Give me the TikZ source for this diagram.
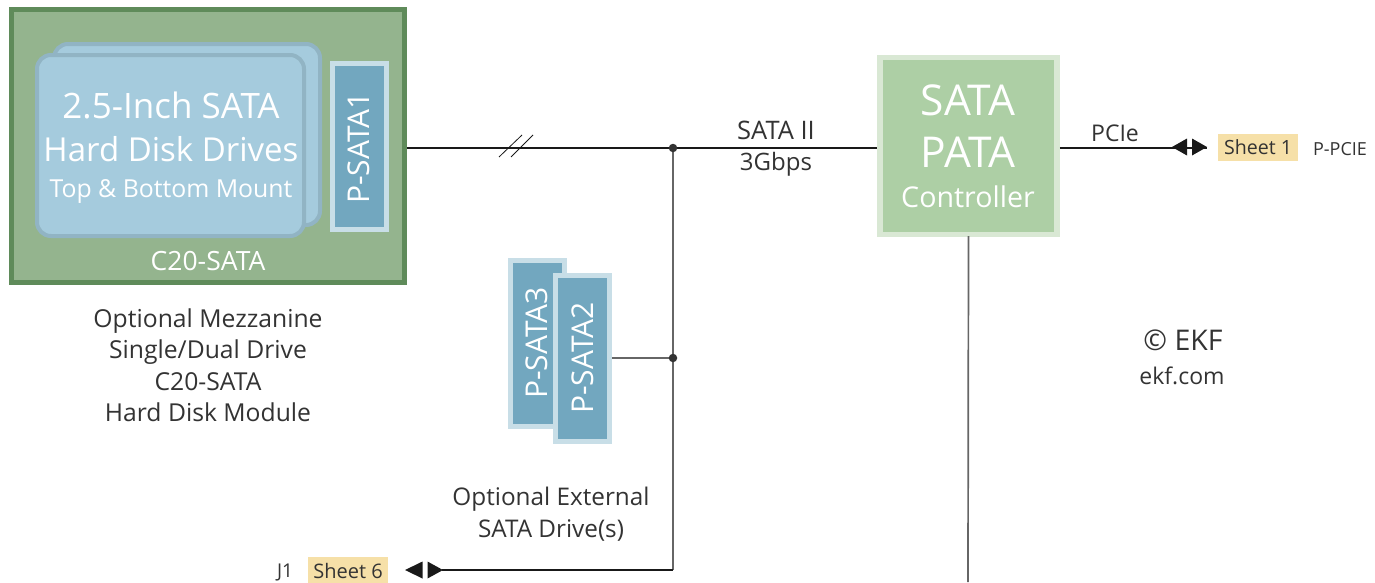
\documentclass[tikz,border=0pt]{standalone}
\usepackage{fontspec}
\setmainfont{Open Sans}
\definecolor{modfill}{HTML}{94B48E}
\definecolor{modborder}{HTML}{5F8B5A}
\definecolor{diskfill}{HTML}{A5CBDD}
\definecolor{diskborder}{HTML}{91B4C4}
\definecolor{connfill}{HTML}{72A7BF}
\definecolor{connframe}{HTML}{C8DEE7}
\definecolor{ctrlfill}{HTML}{ADCFA5}
\definecolor{ctrlframe}{HTML}{D9E8D4}
\definecolor{sheetfill}{HTML}{F6E0A8}
\definecolor{txt}{HTML}{333333}
\definecolor{vline}{HTML}{666666}
\newcommand{\fsz}[1]{\fontsize{#1}{#1}\selectfont}
\begin{document}
\begin{tikzpicture}[x=1pt,y=-1pt,
  lbl/.style={text=txt, inner sep=0pt, anchor=base},
  wlbl/.style={text=white, inner sep=0pt, anchor=base},
  disk/.style={draw=diskborder, line width=4pt, fill=diskfill, rounded corners=14pt, inner sep=0pt},
  conn/.style={draw=connframe, line width=5pt, fill=connfill, inner sep=0pt, minimum width=54pt, minimum height=166pt},
  sheet/.style={fill=sheetfill, inner sep=0pt, minimum width=80pt, minimum height=27pt, text=txt},
  hline/.style={draw=black!90, line width=1.1pt},
  vl/.style={draw=vline, line width=1.7pt},
  dotnode/.style={circle, fill=txt, inner sep=0pt, minimum size=8.5pt},
  tip/.style={fill=black!90, draw=none}]
\useasboundingbox (0,0) rectangle (1375,582);

% module
\node[draw=modborder, line width=5pt, fill=modfill, inner sep=0pt,
      minimum width=393pt, minimum height=273pt] (mod) at (208,146) {};
\node[disk, minimum width=266pt, minimum height=181pt] (diskback) at (187,134.5) {};
\node[disk, minimum width=267pt, minimum height=181pt] (diskfront) at (170.5,145.5) {};
\node[wlbl, font=\fsz{35}] (d1) at (171,118) {2.5-Inch SATA};
\node[wlbl, font=\fsz{33}] (d2) at (171,161) {Hard Disk Drives};
\node[wlbl, font=\fsz{24.8}] (d3) at (171,197) {Top \& Bottom Mount};
\node[conn] (ps1) at (359.5,146.5) {};
\node[text=white, inner sep=0pt, rotate=90, font=\fsz{30}] (ps1t) at (359,148) {P-SATA1};
\node[wlbl, font=\fsz{26.5}] (modname) at (208,270) {C20-SATA};

% mezzanine caption
\node[lbl, font=\fsz{24.7}] (m1) at (208,327) {Optional Mezzanine};
\node[lbl, font=\fsz{24.7}] (m2) at (208,358) {Single/Dual Drive};
\node[lbl, font=\fsz{24.7}] (m3) at (208,390) {C20-SATA};
\node[lbl, font=\fsz{24.7}] (m4) at (208,421) {Hard Disk Module};

% external drives
\node[conn] (ps3) at (537,343.5) {};
\node[text=white, inner sep=0pt, rotate=90, font=\fsz{30}] (ps3t) at (537,343) {P-SATA3};
\node[conn] (ps2) at (582.5,358.5) {};
\node[text=white, inner sep=0pt, rotate=90, font=\fsz{30}] (ps2t) at (583,358) {P-SATA2};
\node[lbl, font=\fsz{24.3}] (e1) at (551,505) {Optional External};
\node[lbl, font=\fsz{24.3}] (e2) at (551,537) {SATA Drive(s)};

% controller
\node[draw=ctrlframe, line width=5.5pt, fill=ctrlfill, inner sep=0pt,
      minimum width=177pt, minimum height=177pt] (ctrl) at (968.5,146) {};
\node[wlbl, font=\fsz{42.5}] (c1) at (968,115) {SATA};
\node[wlbl, font=\fsz{42.5}] (c2) at (968,167) {PATA};
\node[wlbl, font=\fsz{28.6}] (c3) at (968,207) {Controller};

% junctions
\coordinate (j1) at (673,148);
\coordinate (j2) at (673,358);
\coordinate (j3) at (673,570);
\coordinate (ctrlbot) at (968,582);
\coordinate (pcieend) at (1207,148);
\coordinate (j1end) at (442,570);

% connectors
\draw[hline] (mod.east |- j1) -- (ctrl.west |- j1);
\draw[black!90, line width=0.8pt] (499,157) -- (522,135);
\draw[black!90, line width=0.8pt] (511,157) -- (533,135);
\draw[vl] (j1) -- (j3);
\draw[hline] (j3) -- (j1end);
\draw[vl] (ps2.east |- j2) -- (j2);
\draw[vl] (ctrl.south |- ctrlbot) ++(0,-346) -- (ctrlbot);
\draw[hline] (ctrl.east |- pcieend) -- (pcieend);
\node[dotnode] (dot1) at (j1) {};
\node[dotnode] (dot2) at (j2) {};

% labels on lines
\node[lbl, font=\fsz{25.5}] (sata2) at (776,139) {SATA II};
\node[lbl, font=\fsz{24}] (gbps) at (776,170) {3Gbps};
\node[lbl, font=\fsz{23}] (pcie) at (1115,141) {PCIe};

% double arrow tips
\fill[tip] (1172,147) -- (1187,138.5) -- (1187,155.5) -- cycle;
\fill[tip] (1207,147) -- (1192,138.5) -- (1192,155.5) -- cycle;
\fill[tip] (405,570) -- (422.5,561.5) -- (422.5,578.5) -- cycle;
\fill[tip] (443,570) -- (427.5,561.5) -- (427.5,578.5) -- cycle;

% sheet references
\node[sheet, font=\fsz{19.6}] (sh1) at (1258,147.5) {Sheet 1};
\node[lbl, font=\fsz{18}] (ppcie) at (1340,155) {P-PCIE};
\node[sheet, font=\fsz{20}] (sh6) at (348,570.5) {Sheet 6};
\node[lbl, font=\fsz{19}] (jone) at (285,577) {J1};

% copyright
\node[lbl, font=\fsz{28.5}] (copy) at (1183,350) {© EKF};
\node[lbl, font=\fsz{23}] (web) at (1182,384) {ekf.com};
\end{tikzpicture}
\end{document}
